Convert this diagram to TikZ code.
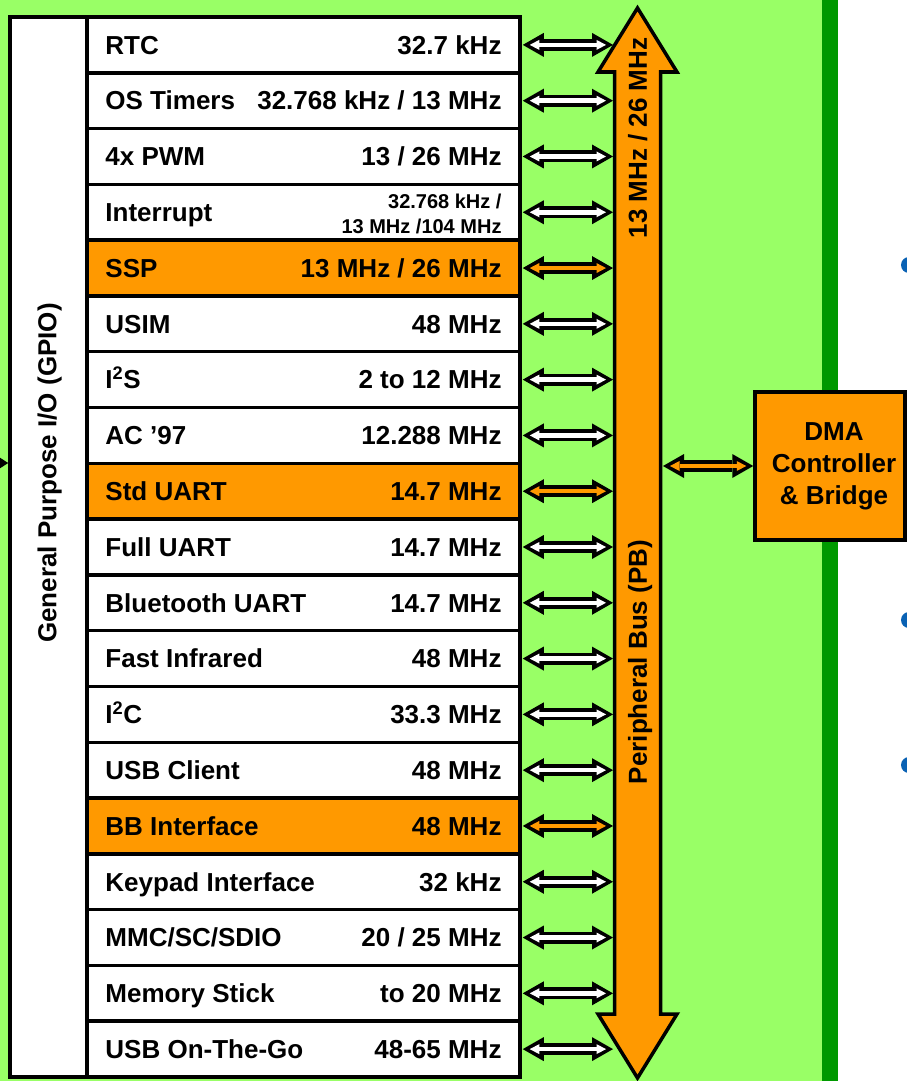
\documentclass[tikz,border=0pt]{standalone}
\usepackage{fontspec}
\setmainfont{Liberation Sans}
\usetikzlibrary{arrows.meta,positioning,calc}
\definecolor{pbgreen}{HTML}{99FF66}
\definecolor{pbdark}{HTML}{009900}
\definecolor{pborange}{HTML}{FF9900}
\definecolor{pbblue}{HTML}{0A62B4}
\tikzset{
  linktip/.tip={Triangle[length=21pt,width=24pt,line width=0pt]},
  linkcore/.tip={Triangle[length=9.5pt,width=10pt,line width=0pt]},
  plink/.style={linktip-linktip, draw=black, line width=12pt, shorten <=1pt},
  plinkin/.style={linkcore-linkcore, draw=#1, line width=4.5pt,
                  shorten <=8pt, shorten >=7pt},
  pbox/.style={draw=black, line width=3.5pt, inner sep=0pt},
  prow/.style={pbox, minimum width=433pt, minimum height=55.8pt},
  ptxt/.style={font=\bfseries\fontsize{26}{30}\selectfont, inner sep=0pt,
               text height=18.6pt, text depth=0pt},
  pbus/.style={draw=black, line width=3.5pt, fill=pborange, line join=miter},
}
\newcommand\intfreq{{\fontsize{20}{25}\selectfont
  \begin{tabular}{@{}r@{}}32.768 kHz /\\13 MHz /104 MHz\end{tabular}}}
\newcommand\linkarrow[3]{%
  \draw[plink] (#1) -- (#2);
  \draw[plinkin=#3] (#1) -- (#2);}

\begin{document}
\begin{tikzpicture}[x=1pt,y=1pt]

  \useasboundingbox (0,0) rectangle (907,-1081);
  \clip (0,0) rectangle (907,-1081);

  % fundo
  \fill[white] (0,0) rectangle (907,-1081);
  \fill[pbgreen] (0,0) rectangle (822,-1081);
  \fill[pbdark] (822,0) rectangle (838,-1081);

  % barramento periferico
  \coordinate (busL) at (613,0);
  \coordinate (busR) at (662,0);
  \draw[pbus] (637.5,-8) -- (677,-72) -- (660.5,-72) -- (660.5,-1014)
    -- (677,-1014) -- (637.5,-1078) -- (598,-1014) -- (614.5,-1014)
    -- (614.5,-72) -- (598,-72) -- cycle;
  \node[ptxt, rotate=90] (busclk) at (637.5,-138) {13 MHz / 26 MHz};
  \node[ptxt, rotate=90] (busname) at (637.5,-662) {Peripheral Bus (PB)};

  % coluna GPIO
  \node[pbox, fill=white, minimum width=77pt, minimum height=1060pt]
    (gpio) at (48.5,-547) {};
  \node[ptxt, rotate=90] (gpiolbl) at (47,-473) {General Purpose I/O (GPIO)};
  \coordinate (gpioin) at (-30,-463);
  \draw[-{Triangle[length=9pt,width=11pt]}, line width=2pt]
    (gpioin) -- (gpioin -| gpio.west);

  % perifericos
  \foreach \nm/\fq/\fc [count=\i] in {
      RTC/32.7 kHz/white,
      OS Timers/{32.768 kHz / 13 MHz}/white,
      4x PWM/{13 / 26 MHz}/white,
      Interrupt/\intfreq/white,
      SSP/{13 MHz / 26 MHz}/pborange,
      USIM/48 MHz/white,
      I\textsuperscript{2}S/2 to 12 MHz/white,
      AC ’97/12.288 MHz/white,
      Std UART/14.7 MHz/pborange,
      Full UART/14.7 MHz/white,
      Bluetooth UART/14.7 MHz/white,
      Fast Infrared/48 MHz/white,
      I\textsuperscript{2}C/33.3 MHz/white,
      USB Client/48 MHz/white,
      BB Interface/48 MHz/pborange,
      Keypad Interface/32 kHz/white,
      {MMC/SC/SDIO}/{20 / 25 MHz}/white,
      Memory Stick/to 20 MHz/white,
      USB On-The-Go/48-65 MHz/white}
  {
    \node[prow, fill=\fc] (r\i) at (303.5,{-17-(\i-0.5)*55.79}) {};
    \node[ptxt, right=20pt of r\i.west] {\nm};
    \node[ptxt, left=20pt of r\i.east] {\fq};
    \linkarrow{r\i.east}{r\i.east -| busL}{\fc}
  }

  % DMA
  \node[pbox, fill=pborange, minimum width=150pt, minimum height=148pt,
        align=center, font=\bfseries\fontsize{26}{32}\selectfont]
    (dma) at (830,-466) {\hspace*{8pt}DMA\\\hspace*{8pt}Controller\\\hspace*{8pt}\& Bridge};
  \linkarrow{dma.west -| busR}{dma.west}{pborange}

  % marcadores
  \foreach \dy in {265,620,765} \fill[pbblue] (909,-\dy) circle (8);

\end{tikzpicture}
\end{document}
